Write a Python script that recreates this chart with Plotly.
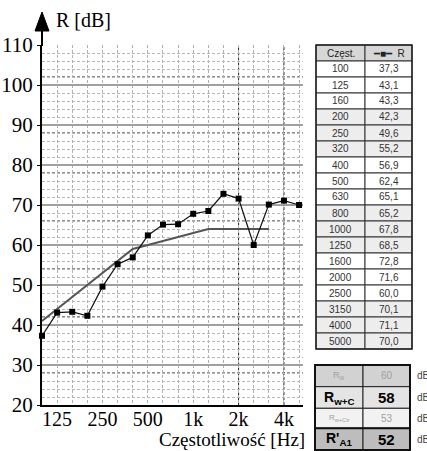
import plotly.graph_objects as go

W, H = 427, 451

freqs = ["100", "125", "160", "200", "250", "320", "400", "500", "630", "800",
         "1000", "1250", "1600", "2000", "2500", "3150", "4000", "5000"]
r_meas = [37.3, 43.1, 43.3, 42.3, 49.6, 55.2, 56.9, 62.4, 65.1, 65.2,
          67.8, 68.5, 72.8, 71.6, 60.0, 70.1, 71.1, 70.0]
ref_freqs = freqs[:16]
r_ref = [41, 44, 47, 50, 53, 56, 59, 60, 61, 62, 63, 64, 64, 64, 64, 64]
tick_freqs = ["125", "250", "500", "1000", "2000", "4000"]
tick_text = ["125", "250", "500", "1k", "2k", "4k"]
y_ticks = [20, 30, 40, 50, 60, 70, 80, 90, 100, 110]

sum_labels = ["R<sub>w</sub>", "<b>R<sub>w+C</sub></b>", "R<sub>w+Ctr</sub>", "<b>R'<sub>A1</sub></b>"]
sum_values = ["60", "<b>58</b>", "53", "<b>52</b>"]
tbl_values = ["37,3", "43,1", "43,3", "42,3", "49,6", "55,2", "56,9", "62,4", "65,1",
              "65,2", "67,8", "68,5", "72,8", "71,6", "60,0", "70,1", "71,1", "70,0"]

SERIF = "Liberation Serif, Times New Roman, Tinos, DejaVu Serif, serif"
SANS = "Liberation Sans, Arial, sans-serif"

idx = {f: i for i, f in enumerate(freqs)}

def px(x):
    return x / W

def py(y):
    return 1 - y / H

fig = go.Figure()

fig.add_trace(go.Scatter(
    x=[idx[f] for f in ref_freqs], y=r_ref, mode="lines",
    line=dict(color="#555555", width=2), showlegend=False, cliponaxis=False))
fig.add_trace(go.Scatter(
    x=[idx[f] for f in freqs], y=r_meas, mode="lines+markers",
    line=dict(color="#111111", width=1.2),
    marker=dict(symbol="square", size=6, color="#000000"),
    showlegend=False, cliponaxis=False))

shapes = []
annots = []

def cell(x0, x1, y0, y1, fill, text, size, color, lw=1, lc="#333333"):
    shapes.append(dict(type="rect", xref="paper", yref="paper",
                       x0=px(x0), x1=px(x1), y0=py(y1), y1=py(y0),
                       fillcolor=fill, line=dict(color=lc, width=lw), layer="above"))
    annots.append(dict(xref="paper", yref="paper", x=px((x0 + x1) / 2), y=py((y0 + y1) / 2),
                       text=text, showarrow=False, xanchor="center", yanchor="middle",
                       font=dict(family=SANS, size=size, color=color)))

# main table
cols = [(316, 365), (365, 412)]
top, rh = 45, 16
cell(*cols[0], top, top + rh, "#d6d6d6", "Częst.", 10, "#222222")
cell(*cols[1], top, top + rh, "#d6d6d6", "━■━  R", 10, "#222222")
for i, (f, v) in enumerate(zip(freqs, tbl_values)):
    fill = "#ededed" if (i // 3) % 2 == 1 else "#ffffff"
    y0 = top + rh * (i + 1)
    cell(*cols[0], y0, y0 + rh, fill, f, 10, "#333333")
    cell(*cols[1], y0, y0 + rh, fill, v, 10, "#333333")
shapes.append(dict(type="rect", xref="paper", yref="paper", x0=px(316), x1=px(412),
                   y0=py(top + rh * 19), y1=py(top), line=dict(color="#222222", width=1.5)))

# summary table
scol = [(315, 363), (363, 410)]
sy = [365, 386.7, 408.3, 428.3, 450]
sfill = ["#d2d2d2", "#e4e4e4", "#f2f2f2", "#bdbdbd"]
scolor = ["#a0a0a0", "#000000", "#a0a0a0", "#000000"]
ssize_l = [9, 14, 8, 14]
ssize_v = [10, 15, 10, 15]
for k in range(4):
    cell(*scol[0], sy[k], sy[k + 1], sfill[k], sum_labels[k], ssize_l[k], scolor[k], lc="#222222")
    cell(*scol[1], sy[k], sy[k + 1], sfill[k], sum_values[k], ssize_v[k], scolor[k], lc="#222222")
    annots.append(dict(xref="paper", yref="paper", x=px(415), y=py((sy[k] + sy[k + 1]) / 2),
                       text="dB", showarrow=False, xanchor="left", yanchor="middle",
                       font=dict(family=SANS, size=10, color="#444444")))
shapes.append(dict(type="rect", xref="paper", yref="paper", x0=px(315), x1=px(410),
                   y0=py(450), y1=py(365), line=dict(color="#111111", width=2)))
shapes.append(dict(type="line", xref="paper", yref="paper", x0=px(315), x1=px(410),
                   y0=py(sy[3]), y1=py(sy[3]), line=dict(color="#111111", width=2)))

# aliased dark grid lines (appearance of the scanned grid)
for v in [100, 90, 40, 30]:
    shapes.append(dict(type="line", xref="paper", yref="y", x0=px(42), x1=px(303), y0=v, y1=v,
                       line=dict(color="#111111", width=1.3), layer="below"))
for v in [102, 88, 78, 66, 54, 42, 28]:
    shapes.append(dict(type="line", xref="paper", yref="y", x0=px(42), x1=px(303), y0=v, y1=v,
                       line=dict(color="#222222", width=1, dash="3px,2px"), layer="below"))
for f in ["2000", "4000"]:
    shapes.append(dict(type="line", xref="x", yref="paper", x0=idx[f], x1=idx[f],
                       y0=py(405), y1=py(45),
                       line=dict(color="#222222", width=1, dash="3px,2px"), layer="below"))
# axis arrow
shapes.append(dict(type="line", xref="paper", yref="paper", x0=px(42), x1=px(42),
                   y0=py(46), y1=py(30), line=dict(color="black", width=2)))
shapes.append(dict(type="path", xref="paper", yref="paper",
                   path=f"M {px(42)},{py(12)} L {px(35)},{py(31)} L {px(49)},{py(31)} Z",
                   fillcolor="black", line=dict(color="black", width=1)))

annots.append(dict(xref="paper", yref="paper", x=px(54), y=py(20), text="R [dB]",
                   showarrow=False, xanchor="left", yanchor="middle",
                   font=dict(family=SERIF, size=20, color="black")))
annots.append(dict(xref="paper", yref="paper", x=px(307), y=py(439),
                   text="Częstotliwość [Hz]", showarrow=False, xanchor="right", yanchor="middle",
                   font=dict(family=SERIF, size=19, color="black")))

fig.update_layout(
    width=W, height=H,
    margin=dict(l=0, r=0, t=0, b=0),
    paper_bgcolor="white", plot_bgcolor="rgba(0,0,0,0)",
    font=dict(family=SERIF),
    shapes=shapes, annotations=annots,
    xaxis=dict(domain=[px(42), px(303)], range=[0, 17.26], automargin=False,
               tickmode="array", tickvals=[idx[f] for f in tick_freqs], ticktext=tick_text,
               ticks="", ticklabelstandoff=-5,
               showgrid=True, gridcolor="#b0b0b0", gridwidth=1, griddash="3px,2px",
               minor=dict(dtick=1, tick0=0, showgrid=True, gridcolor="#b0b0b0",
                          gridwidth=1, griddash="3px,2px"),
               showline=True, linecolor="black", linewidth=2, zeroline=False,
               tickfont=dict(family=SERIF, size=20, color="black")),
    yaxis=dict(domain=[py(405), py(45)], range=[20, 110], automargin=False,
               tickmode="array", tickvals=y_ticks,
               ticks="outside", ticklen=3, tickcolor="black",
               showgrid=True, gridcolor="#a0a0a0", gridwidth=1.5,
               minor=dict(dtick=2, tick0=0, showgrid=True, gridcolor="#b8b8b8",
                          gridwidth=1, griddash="3px,2px"),
               showline=True, linecolor="black", linewidth=2, zeroline=False,
               tickfont=dict(family=SERIF, size=21, color="black")),
)

fig.write_html("out.html", config={"displayModeBar": False},
               post_script="document.body.style.margin='0';document.body.style.padding='0';")
